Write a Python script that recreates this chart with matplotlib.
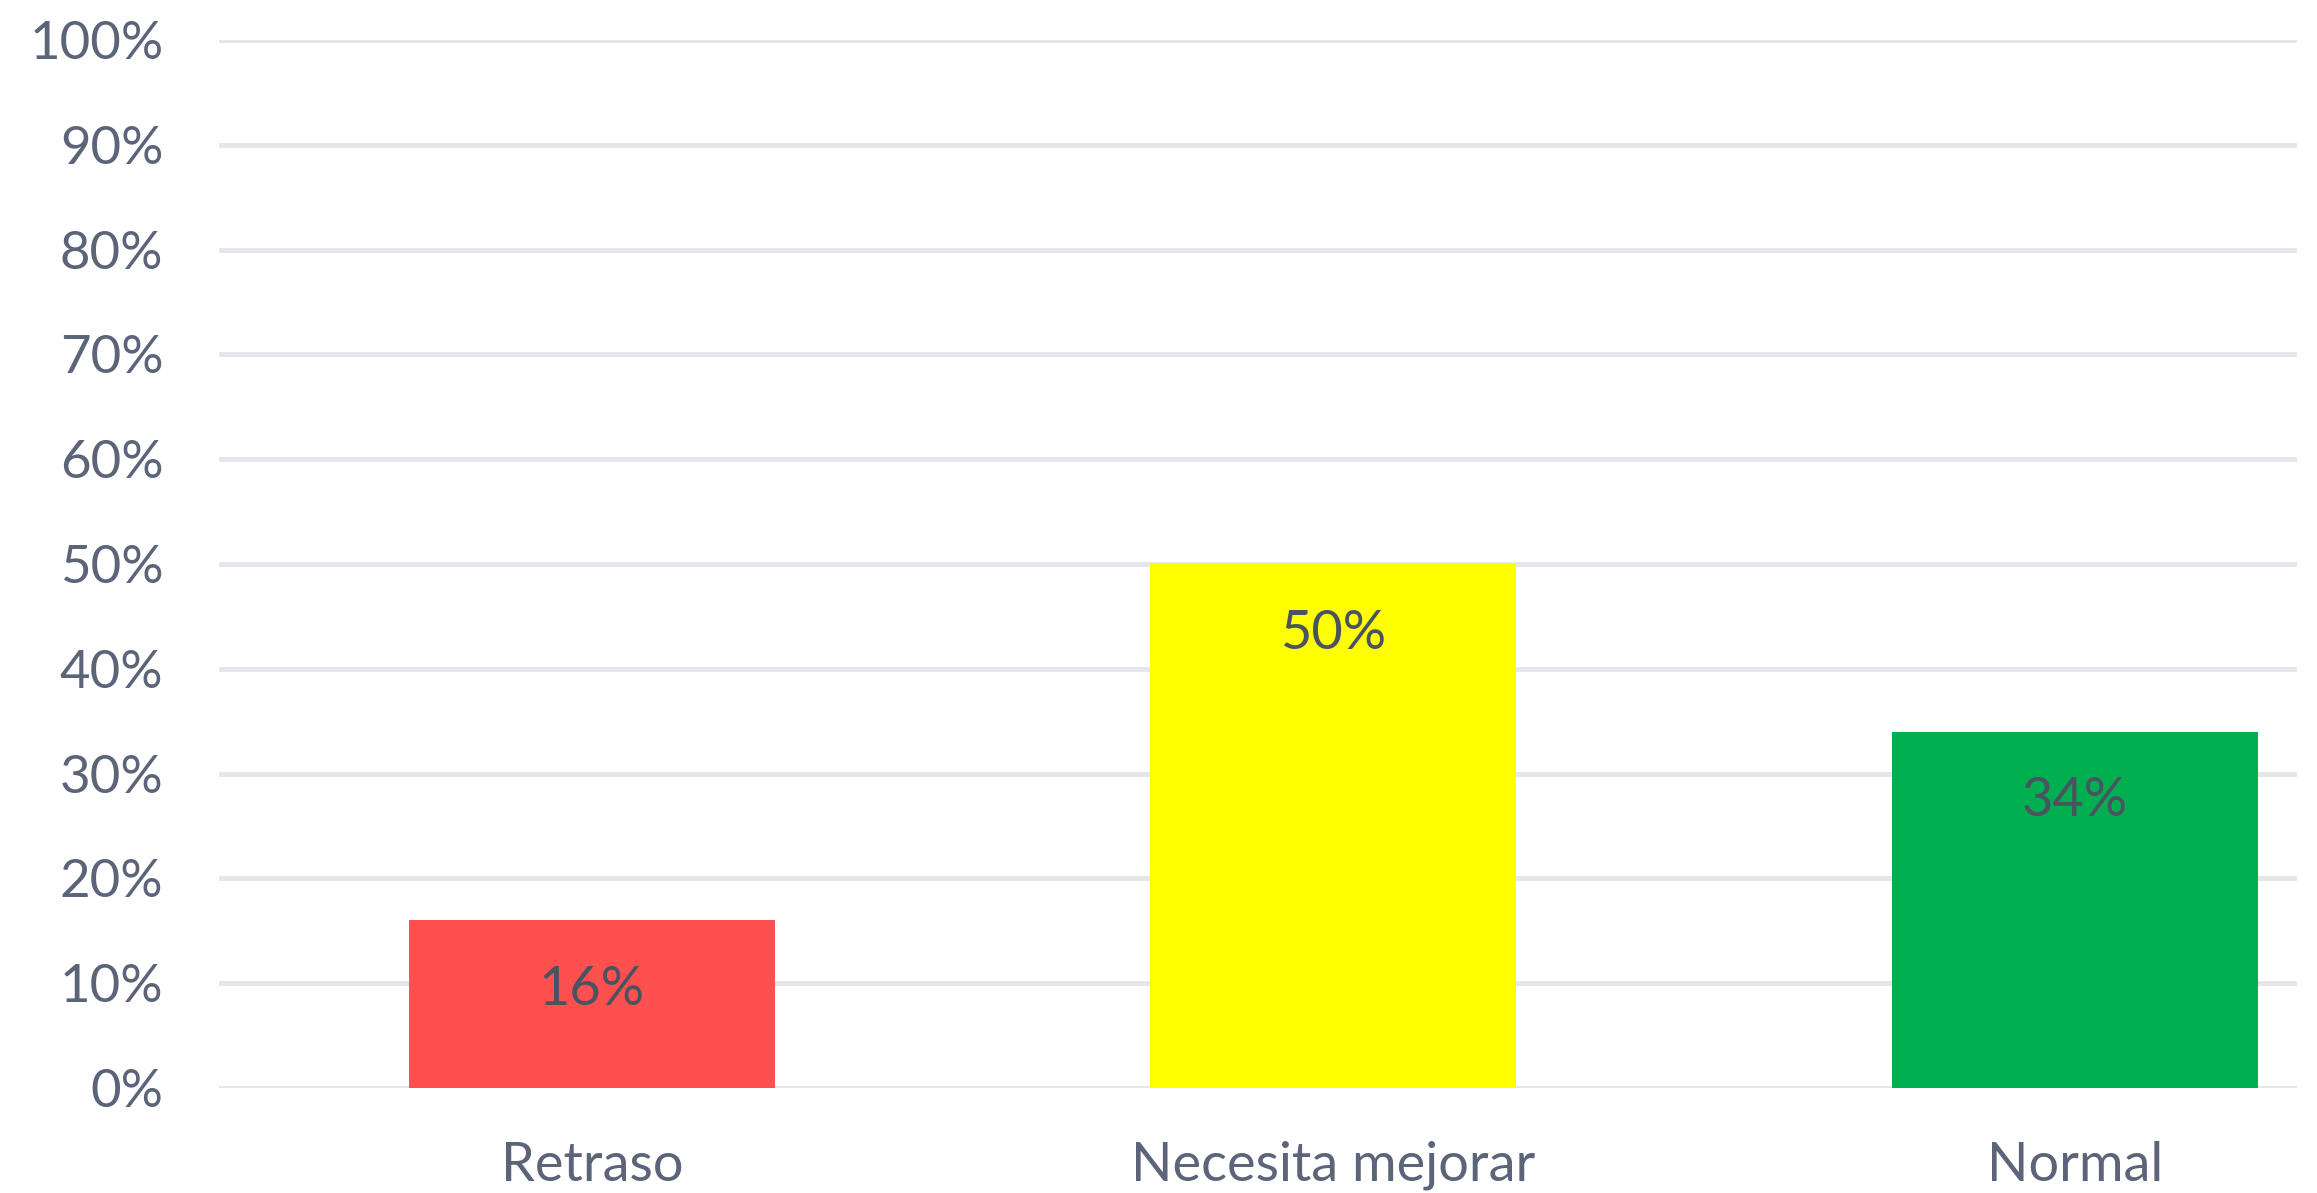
import numpy as np
import matplotlib
matplotlib.use('Agg')
import matplotlib.pyplot as plt

# data
categories = ['Retraso', 'Necesita mejorar', 'Normal']
values = [16, 50, 34]
bar_colors = ['#FF5050', '#FFFF00', '#00B050']
yticks = np.arange(0, 101, 10)

plt.rcParams['font.family'] = ['Lato', 'DejaVu Sans']
text_color = '#5b6478'

fig = plt.figure(figsize=(23.17, 11.93), dpi=100)
ax = fig.add_axes([0.0945, 0.088, 0.8969, 0.8785])

x = np.arange(len(categories))
ax.bar(x, values, width=0.494, color=bar_colors, zorder=3)

# value labels inside the bars, near the top
for xi, v in zip(x, values):
    ax.text(xi, v - 6.6, f'{v}%', ha='center', va='center',
            fontsize=39, color='#4a5360', zorder=4)

ax.set_xlim(-0.503, 2.30)
ax.set_ylim(0, 100)
ax.set_yticks(yticks)
ax.set_yticklabels([f'{t}%' for t in yticks])
ax.set_xticks(x)
ax.set_xticklabels(categories)

ax.grid(axis='y', color='#e4e6ec', linewidth=3.5, zorder=0)
ax.set_axisbelow(True)
for s in ax.spines.values():
    s.set_visible(False)

ax.tick_params(axis='y', length=0, pad=40, labelsize=38, labelcolor=text_color)
ax.tick_params(axis='x', length=0, pad=38, labelsize=39, labelcolor=text_color)

fig.savefig('out.png', dpi=100, facecolor='white')
